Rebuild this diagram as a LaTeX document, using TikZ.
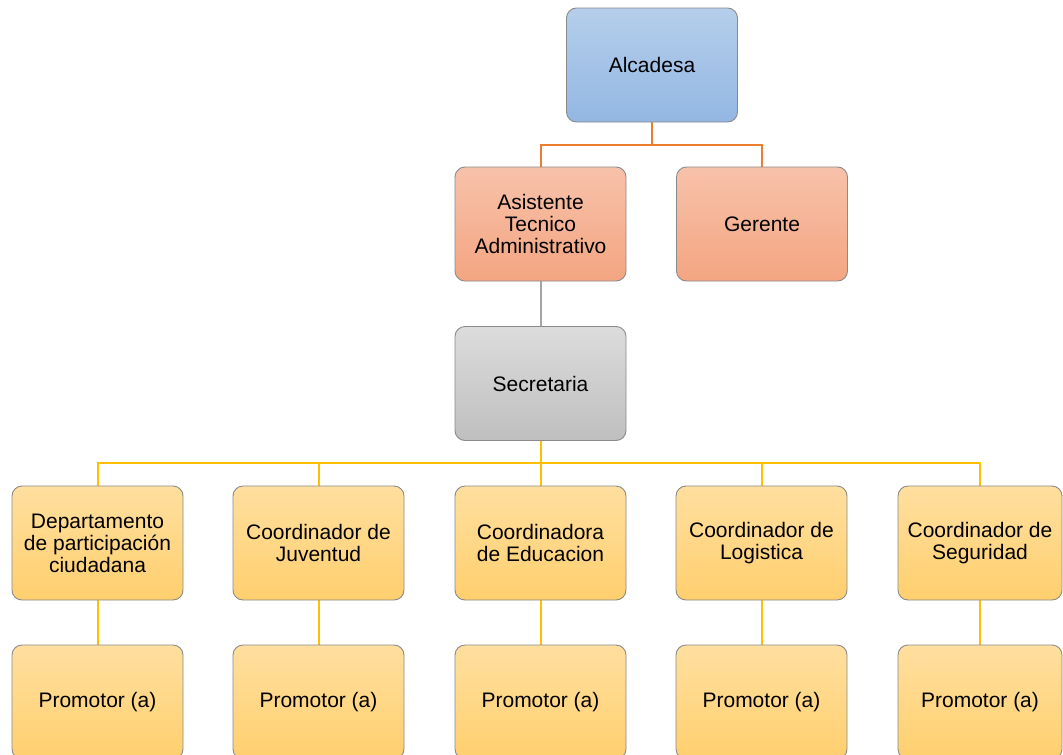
\documentclass[tikz,border=0pt]{standalone}
\usepackage{fontspec}
\setmainfont{Liberation Sans}
\usetikzlibrary{backgrounds}
\definecolor{bordergray}{HTML}{8A8A8A}
\definecolor{orgline}{HTML}{ED7D31}
\definecolor{grayline}{HTML}{A5A5A5}
\definecolor{goldline}{HTML}{FFC000}
\definecolor{blueTop}{HTML}{B5CEEB}
\definecolor{blueBot}{HTML}{93B7E3}
\definecolor{salTop}{HTML}{F7C2AA}
\definecolor{salBot}{HTML}{F4A581}
\definecolor{grayTop}{HTML}{DCDCDC}
\definecolor{grayBot}{HTML}{BFBFBF}
\definecolor{goldTop}{HTML}{FFDF9F}
\definecolor{goldBot}{HTML}{FFCF6E}
\tikzset{
  box/.style={draw=bordergray, line width=0.9pt, rounded corners=10pt,
    minimum width=171pt, minimum height=114pt, inner sep=0pt, align=center,
    font=\fontsize{21}{22}\selectfont, text=black},
  bluebox/.style={box, top color=blueTop, bottom color=blueBot},
  salmonbox/.style={box, top color=salTop, bottom color=salBot},
  graybox/.style={box, top color=grayTop, bottom color=grayBot},
  goldbox/.style={box, top color=goldTop, bottom color=goldBot},
  conn/.style={line width=2pt},
}
\begin{document}
\begin{tikzpicture}[x=1pt,y=-1pt]
\useasboundingbox (0,0) rectangle (1063,755);
\node[bluebox] (alc) at (652,65) {Alcadesa};
\node[salmonbox] (asis) at (540.5,224) {Asistente\\Tecnico\\Administrativo};
\node[salmonbox] (ger) at (762,224) {Gerente};
\node[graybox] (sec) at (540.5,383.5) {Secretaria};
\node[goldbox] (d1) at (97.5,543) {Departamento\\de participación\\ciudadana};
\node[goldbox] (d2) at (318.5,543) {Coordinador de\\Juventud};
\node[goldbox] (d3) at (540.5,543) {Coordinadora\\de Educacion};
\node[goldbox] (d4) at (761.5,543) {Coordinador de\\Logistica};
\node[goldbox, minimum width=164pt] (d5) at (980,543) {Coordinador de\\Seguridad};
\node[goldbox] (p1) at (97.5,702) {Promotor (a)};
\node[goldbox] (p2) at (318.5,702) {Promotor (a)};
\node[goldbox] (p3) at (540.5,702) {Promotor (a)};
\node[goldbox] (p4) at (761.5,702) {Promotor (a)};
\node[goldbox, minimum width=164pt] (p5) at (980,702) {Promotor (a)};
\begin{scope}[on background layer]
\fill[white] (0,0) rectangle (1063,755);
\coordinate (obus) at (652,145);
\draw[conn, orgline] (alc.south) -- (obus) -| (asis.north);
\draw[conn, orgline] (obus) -| (ger.north);
\draw[conn, grayline] (asis.south) -- (sec.north);
\coordinate (ybus) at (540.5,463);
\draw[conn, goldline] (sec.south) -- (ybus) -| (d1.north);
\draw[conn, goldline] (ybus) -| (d2.north);
\draw[conn, goldline] (ybus) -| (d3.north);
\draw[conn, goldline] (ybus) -| (d4.north);
\draw[conn, goldline] (ybus) -| (d5.north);
\draw[conn, goldline] (d1.south) -- (p1.north);
\draw[conn, goldline] (d2.south) -- (p2.north);
\draw[conn, goldline] (d3.south) -- (p3.north);
\draw[conn, goldline] (d4.south) -- (p4.north);
\draw[conn, goldline] (d5.south) -- (p5.north);
\end{scope}
\end{tikzpicture}
\end{document}
